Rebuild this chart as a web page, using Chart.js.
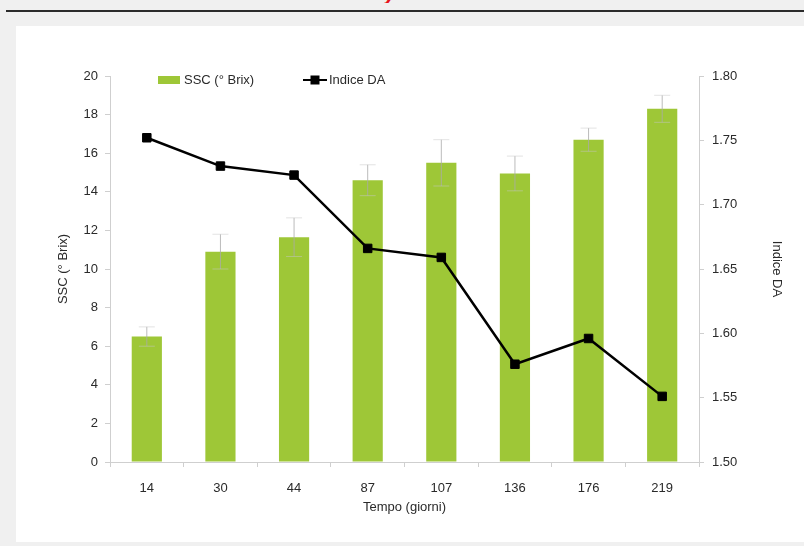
<!DOCTYPE html>
<html>
<head>
<meta charset="utf-8">
<script src="https://cdn.jsdelivr.net/npm/chart.js@4.4.1/dist/chart.umd.min.js"></script>
<style>
  html, body { margin: 0; padding: 0; background: #f0f0f0; width: 804px; height: 546px; overflow: hidden; }
  #topline { position: absolute; left: 6px; top: 10px; width: 798px; height: 2px; background: #2b2b2b; }
  #redcut { position: absolute; left: 384px; top: 0; width: 12px; height: 3px; overflow: hidden; }
  #redcut span { position: absolute; left: 0; top: -20px; font: bold italic 22px "Liberation Sans", Arial, sans-serif; color: #e8141c; }
  #panel { position: absolute; left: 16px; top: 26px; width: 788px; height: 516px; background: #fff; }
  #mychart { position: absolute; left: 0; top: 0; }
</style>
</head>
<body>
<div id="topline"></div>
<div id="redcut"><span>y</span></div>
<div id="panel">
  <canvas id="mychart" width="788" height="516"></canvas>
</div>
<script>
// データ
const days = ['14', '30', '44', '87', '107', '136', '176', '219'];
const ssc = [6.5, 10.9, 11.65, 14.6, 15.5, 14.95, 16.7, 18.3];
const sscErr = [0.5, 0.9, 1.0, 0.8, 1.2, 0.9, 0.6, 0.7];
const indiceDA = [1.752, 1.730, 1.723, 1.666, 1.659, 1.576, 1.596, 1.551];
const sscTicks = [0, 20, 2];
const daTicks = [1.5, 1.8, 0.05];

const green = '#9ec737';
const axisGrey = '#cfcfcf';
const textColor = '#2a2a2a';
const font13 = { family: '"Liberation Sans", Arial, sans-serif', size: 13 };

// error bars on the SSC bars
const errorBars = {
    id: 'errorBars',
    afterDatasetDraw(chart, args) {
        if (args.index !== 0) return;
        const meta = chart.getDatasetMeta(0);
        const y = chart.scales.y;
        const c = chart.ctx;
        c.save();
        meta.data.forEach((bar, i) => {
            const top = y.getPixelForValue(ssc[i] + sscErr[i]);
            const bot = y.getPixelForValue(ssc[i] - sscErr[i]);
            c.strokeStyle = 'rgba(170,170,170,0.8)';
            c.lineWidth = 1;
            c.beginPath();
            c.moveTo(bar.x, top);
            c.lineTo(bar.x, bot);
            c.stroke();
            c.strokeStyle = 'rgba(200,200,200,0.5)';
            c.beginPath();
            c.moveTo(bar.x - 8, top);
            c.lineTo(bar.x + 8, top);
            c.moveTo(bar.x - 8, bot);
            c.lineTo(bar.x + 8, bot);
            c.stroke();
        });
        c.restore();
    }
};

// legend drawn by hand (sits inside the plot area)
const legendBox = {
    id: 'legendBox',
    afterDraw(chart) {
        const c = chart.ctx;
        c.save();
        c.font = '13px "Liberation Sans", Arial, sans-serif';
        c.fillStyle = green;
        c.fillRect(142, 50, 22, 8);
        c.fillStyle = textColor;
        c.textBaseline = 'middle';
        c.fillText('SSC (° Brix)', 168, 54);
        c.strokeStyle = '#000';
        c.lineWidth = 2;
        c.beginPath();
        c.moveTo(287, 54);
        c.lineTo(311, 54);
        c.stroke();
        c.fillStyle = '#000';
        c.fillRect(294.5, 49.5, 9, 9);
        c.fillStyle = textColor;
        c.fillText('Indice DA', 313, 54);
        c.restore();
    }
};

let myChart = new Chart(document.getElementById('mychart'), {
    data: {
        labels: days,
        datasets: [
            {
                type: 'bar',
                label: 'SSC (° Brix)',
                data: ssc,
                backgroundColor: green,
                yAxisID: 'y',
                barPercentage: 0.41,
                categoryPercentage: 1,
                order: 1
            },
            {
                type: 'line',
                label: 'Indice DA',
                data: indiceDA,
                borderColor: '#000',
                backgroundColor: '#000',
                borderWidth: 2.5,
                pointStyle: 'rect',
                pointRadius: 6,
                pointBorderWidth: 1,
                pointHoverRadius: 6,
                yAxisID: 'y1',
                tension: 0,
                order: 0
            }
        ]
    },
    options: {
        responsive: false,
        animation: false,
        devicePixelRatio: 1,
        layout: { padding: { left: 36, right: 16, top: 50, bottom: 24 } },
        plugins: {
            legend: { display: false },
            tooltip: { enabled: false }
        },
        scales: {
            x: {
                offset: true,
                grid: { display: true, drawOnChartArea: false, offset: true, tickLength: 5, color: axisGrey },
                border: { color: axisGrey },
                ticks: { color: textColor, font: font13, padding: 14, maxRotation: 0 },
                title: { display: true, text: 'Tempo (giorni)', color: textColor, font: font13, padding: 3 },
                afterFit: (s) => { s.height = 56; }
            },
            y: {
                position: 'left',
                min: sscTicks[0],
                max: sscTicks[1],
                grid: { display: true, drawOnChartArea: false, tickLength: 5, color: axisGrey },
                border: { color: axisGrey },
                ticks: { stepSize: sscTicks[2], color: textColor, font: font13, padding: 7 },
                title: { display: true, text: 'SSC (° Brix)', color: textColor, font: font13, padding: 4 },
                afterFit: (s) => { s.width = 58; }
            },
            y1: {
                position: 'right',
                min: daTicks[0],
                max: daTicks[1],
                grid: { display: true, drawOnChartArea: false, tickLength: 5, color: axisGrey },
                border: { color: axisGrey },
                ticks: {
                    stepSize: daTicks[2], color: textColor, font: font13, padding: 8,
                    callback: (v) => v.toFixed(2)
                },
                title: { display: true, text: 'Indice DA', color: textColor, font: font13, padding: 4 },
                afterFit: (s) => { s.width = 89; }
            }
        }
    },
    plugins: [errorBars, legendBox]
});
</script>
</body>
</html>
